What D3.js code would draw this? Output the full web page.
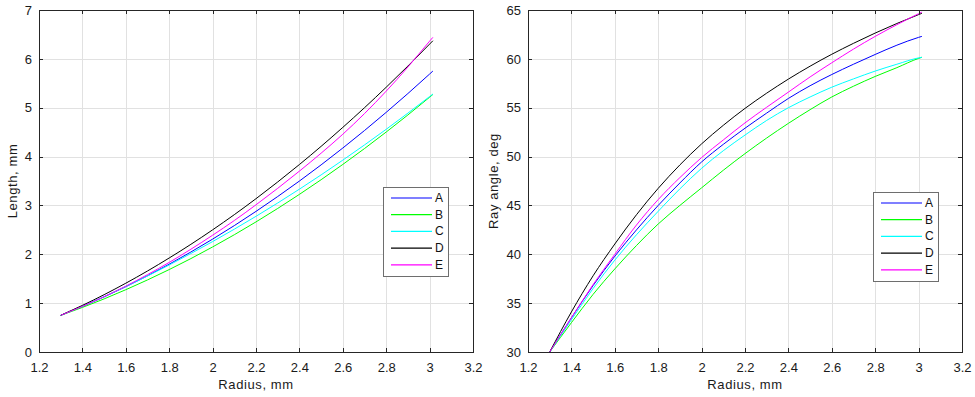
<!DOCTYPE html>
<html>
<head>
<meta charset="utf-8">
<script src="https://cdn.jsdelivr.net/npm/d3@7"></script>
<style>
  html, body { margin: 0; padding: 0; background: #fff; }
  svg { display: block; font-family: "Liberation Sans", Arial, sans-serif; }
</style>
</head>
<body>
<div id="chart"></div>
<script>
// radius samples shared by every curve
const radius = [1.3, 1.4, 1.5, 1.6, 1.7, 1.8, 1.9, 2.0, 2.1, 2.2, 2.3, 2.4, 2.5, 2.6, 2.7, 2.8, 2.9, 3.0, 3.015];

// left panel: length, mm
const lengthA = [0.750, 0.932, 1.128, 1.337, 1.560, 1.797, 2.047, 2.310, 2.587, 2.878, 3.182, 3.499, 3.830, 4.175, 4.533, 4.905, 5.290, 5.689, 5.750];
const lengthB = [0.750, 0.912, 1.087, 1.275, 1.475, 1.687, 1.912, 2.150, 2.400, 2.663, 2.938, 3.226, 3.526, 3.839, 4.164, 4.502, 4.852, 5.215, 5.270];
const lengthC = [0.750, 0.937, 1.134, 1.340, 1.556, 1.781, 2.016, 2.260, 2.514, 2.777, 3.050, 3.333, 3.625, 3.927, 4.238, 4.558, 4.889, 5.228, 5.280];
const lengthD = [0.750, 0.954, 1.173, 1.408, 1.658, 1.924, 2.204, 2.500, 2.811, 3.138, 3.480, 3.837, 4.209, 4.597, 5.000, 5.419, 5.853, 6.302, 6.370];
const lengthE = [0.750, 0.934, 1.133, 1.348, 1.583, 1.834, 2.104, 2.390, 2.691, 3.013, 3.350, 3.702, 4.069, 4.457, 4.880, 5.339, 5.833, 6.362, 6.440];

// right panel: ray angle, deg
const angleA = [30, 33.5, 36.8, 39.8, 42.5, 45.0, 47.3, 49.45, 51.25, 52.9, 54.45, 55.95, 57.25, 58.4, 59.45, 60.45, 61.4, 62.2, 62.3];
const angleB = [30, 33.0, 35.9, 38.5, 40.9, 43.1, 45.0, 46.8, 48.6, 50.3, 51.9, 53.4, 54.8, 56.1, 57.2, 58.2, 59.1, 60.05, 60.16];
const angleC = [30, 33.3, 36.5, 39.4, 42.0, 44.4, 46.7, 48.8, 50.6, 52.2, 53.7, 55.0, 56.1, 57.1, 57.95, 58.75, 59.45, 60.1, 60.16];
const angleD = [30, 34.1, 37.8, 41.05, 44.05, 46.75, 49.15, 51.3, 53.2, 54.93, 56.49, 57.93, 59.25, 60.47, 61.59, 62.64, 63.62, 64.53, 64.66];
const angleE = [30, 33.5, 36.9, 40.0, 43.0, 45.6, 47.85, 49.9, 51.7, 53.45, 55.05, 56.6, 58.15, 59.6, 61.0, 62.3, 63.5, 64.62, 64.78];

const seriesNames = ["A", "B", "C", "D", "E"];
const radiusTicks = [1.2, 1.4, 1.6, 1.8, 2.0, 2.2, 2.4, 2.6, 2.8, 3.0, 3.2];
const lengthTicks = [0, 1, 2, 3, 4, 5, 6, 7];
const angleTicks = [30, 35, 40, 45, 50, 55, 60, 65];

const colors = ["#0000ff", "#00ff00", "#00ffff", "#000000", "#ff00ff"];

class LinePanel {
    constructor(svg, series, opts){
        this.svg = svg;
        this.series = series;
        this.o = opts;
        this.g = svg.append("g");
        this.x = d3.scaleLinear().domain(d3.extent(radiusTicks)).range([opts.left, opts.right]);
        this.y = d3.scaleLinear().domain(d3.extent(opts.yTicks)).range([opts.bottom, opts.top]);
        this._grid();
        this._lines();
        this._axes();
        this._legend();
        this._titles();
    };

    _grid(){
        let { g, x, y, o } = this;
        let grid = g.append("g").attr("shape-rendering", "crispEdges").attr("stroke", "#e1e1e1");
        grid.selectAll(".vx").data(radiusTicks.slice(1, -1)).enter().append("line")
            .attr("x1", d => Math.round(x(d)) + 0.5).attr("x2", d => Math.round(x(d)) + 0.5)
            .attr("y1", o.top).attr("y2", o.bottom);
        grid.selectAll(".hy").data(o.yTicks.slice(1, -1)).enter().append("line")
            .attr("y1", d => Math.round(y(d)) + 0.5).attr("y2", d => Math.round(y(d)) + 0.5)
            .attr("x1", o.left).attr("x2", o.right);
    };

    _lines(){
        let { g, x, y, series } = this;
        let line = d3.line().x((d, i) => x(radius[i])).y(d => y(d)).curve(d3.curveMonotoneX);
        g.append("g").selectAll("path").data(series).enter().append("path")
            .attr("fill", "none")
            .attr("stroke", (d, i) => colors[i])
            .attr("stroke-width", 1)
            .attr("d", d => line(d));
    };

    _axes(){
        let { g, x, y, o } = this;
        let h = o.bottom - o.top, w = o.right - o.left;
        let fmtX = d => d3.format(".1f")(d).replace(/\.0$/, "");
        let style = sel => {
            sel.attr("shape-rendering", "crispEdges");
            sel.select(".domain").remove();
            sel.selectAll(".tick line").attr("stroke", "#262626");
            sel.selectAll(".tick text").attr("fill", "#1a1a1a").style("font-size", "13px").style("font-family", "Liberation Sans, Arial, sans-serif");
        };
        g.append("g").attr("transform", `translate(0,${o.bottom})`)
            .call(d3.axisBottom(x).tickValues(radiusTicks).tickSize(-4).tickPadding(11).tickFormat(fmtX)).call(style);
        g.append("g").attr("transform", `translate(0,${o.top})`)
            .call(d3.axisTop(x).tickValues(radiusTicks).tickSize(-4).tickFormat("")).call(style);
        g.append("g").attr("transform", `translate(${o.left},0)`)
            .call(d3.axisLeft(y).tickValues(o.yTicks).tickSize(-4).tickPadding(7).tickFormat(d3.format("d"))).call(style);
        g.append("g").attr("transform", `translate(${o.right},0)`)
            .call(d3.axisRight(y).tickValues(o.yTicks).tickSize(-4).tickFormat("")).call(style);
        g.append("rect")
            .attr("x", o.left + 0.5).attr("y", o.top + 0.5)
            .attr("width", w).attr("height", h)
            .attr("fill", "none").attr("stroke", "#262626")
            .attr("shape-rendering", "crispEdges");
    };

    _legend(){
        let { g, o } = this;
        let lg = g.append("g").attr("transform", `translate(${o.legend[0]},${o.legend[1]})`);
        lg.append("rect").attr("x", 0.5).attr("y", 0.5).attr("width", 65).attr("height", 89)
            .attr("fill", "#fff").attr("stroke", "#6e6e6e").attr("shape-rendering", "crispEdges");
        let rows = lg.selectAll(".row").data(seriesNames).enter().append("g")
            .attr("transform", (d, i) => `translate(0,${11 + i * 16.7})`);
        rows.append("line").attr("x1", 8).attr("x2", 49).attr("y1", 0).attr("y2", 0)
            .attr("stroke", (d, i) => colors[i]).attr("stroke-width", 1.2);
        rows.append("text").attr("x", 52).attr("y", 4).text(d => d)
            .attr("fill", "#111").style("font-size", "12px");
    };

    _titles(){
        let { g, o } = this;
        g.append("text")
            .attr("x", (o.left + o.right) / 2).attr("y", 389)
            .attr("text-anchor", "middle").style("font-size", "13px").style("letter-spacing", "0.6px")
            .attr("fill", "#1a1a1a").text("Radius, mm");
        g.append("text")
            .attr("transform", `translate(${o.titleX},${(o.top + o.bottom) / 2}) rotate(-90)`)
            .attr("text-anchor", "middle").style("font-size", "13px").style("letter-spacing", "0.6px")
            .attr("fill", "#1a1a1a").text(o.yTitle);
    };
};

const svg = d3.select("#chart").append("svg").attr("width", 975).attr("height", 397);
svg.append("rect").attr("width", 975).attr("height", 397).attr("fill", "#fff");

new LinePanel(svg, [lengthA, lengthB, lengthC, lengthD, lengthE], {
    left: 39, right: 473, top: 10, bottom: 352,
    yTicks: lengthTicks, yTitle: "Length, mm", titleX: 17,
    legend: [383, 187]
});

new LinePanel(svg, [angleA, angleB, angleC, angleD, angleE], {
    left: 528, right: 962, top: 10, bottom: 352,
    yTicks: angleTicks, yTitle: "Ray angle, deg", titleX: 498,
    legend: [873, 192]
});
</script>
</body>
</html>
